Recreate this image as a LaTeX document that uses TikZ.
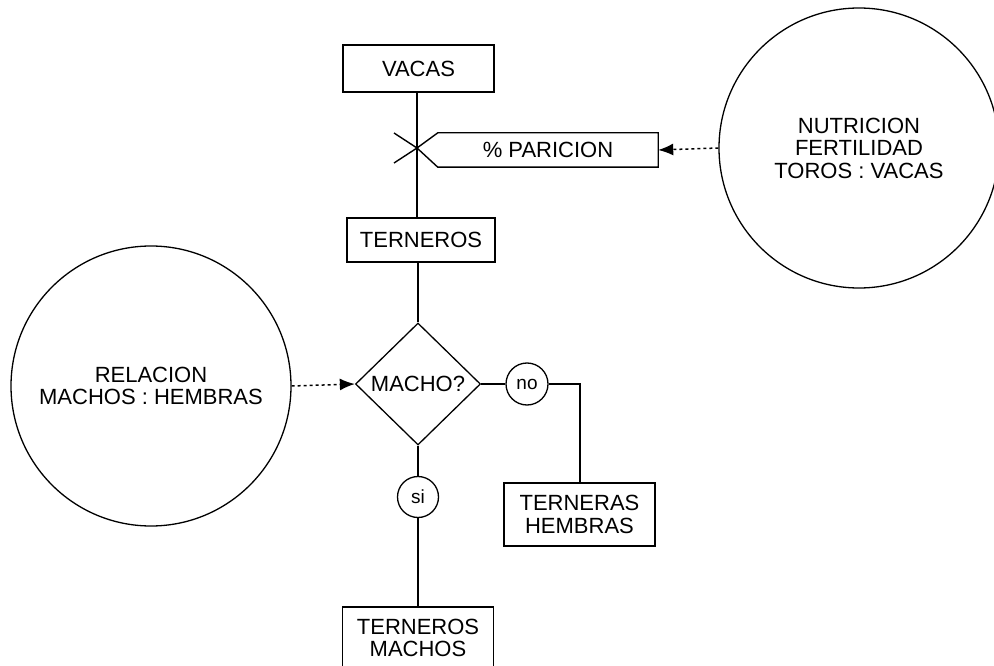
\documentclass[tikz,border=0pt]{standalone}
\usepackage{fontspec}
\setmainfont{Liberation Sans}
\usetikzlibrary{shapes.geometric,arrows.meta}
\begin{document}
\begin{tikzpicture}[x=1pt,y=-1pt,
  every node/.style={font=\fontsize{22}{22.5}\selectfont, inner sep=0pt, align=center},
  box/.style={draw, rectangle, line width=1.4pt},
  bigcirc/.style={draw, circle, line width=1.3pt, minimum size=280pt},
  smallcirc/.style={draw, circle, line width=1.3pt, minimum size=41pt, font=\fontsize{19}{20}\selectfont},
  flow/.style={line width=1.4pt},
  info/.style={line width=1.5pt, dash pattern=on 3pt off 3pt, -{Latex[length=15pt,width=12pt]}}]
\useasboundingbox (0,0) rectangle (994,666);
\clip (0,0) rectangle (994,666);

% stocks
\node[box, minimum width=151pt, minimum height=47pt] (vacas) at (418.5,68.5) {VACAS};
\node[box, minimum width=148pt, minimum height=44pt] (terneros) at (421,240) {TERNEROS};
\node[box, minimum width=151pt, minimum height=63pt] (hembras) at (579.5,514.5) {TERNERAS\\HEMBRAS};
\node[box, minimum width=151pt, minimum height=62pt] (machos) at (418,638) {TERNEROS\\MACHOS};

% valve and rate
\coordinate (valve) at (417,148);
\node[minimum width=220pt, minimum height=34pt] (paric) at (548,150) {\% PARICION};
\draw[flow] (valve) -- (paric.north west) -- (paric.north east) -- (paric.south east)
  -- (paric.south west) -- cycle;
\draw[flow] (valve) -- ++(-23,-15);
\draw[flow] (valve) -- ++(-23,15);

% auxiliaries
\node[bigcirc] (nutri) at (859,148) {NUTRICION\\FERTILIDAD\\TOROS : VACAS};
\node[bigcirc] (relac) at (151,386) {RELACION\\MACHOS : HEMBRAS};

% decision
\node[draw, diamond, line width=1.3pt, minimum width=125pt, minimum height=122pt] (dia) at (418,384) {MACHO?};
\node[smallcirc, minimum size=42pt] (no) at (527,384) {no};
\node[smallcirc] (si) at (418,497) {si};
\coordinate (nocorner) at (580,384);

% flows
\draw[flow] (vacas.south -| valve) -- (valve) -- (terneros.north -| valve);
\draw[flow] (terneros.south -| dia.north) -- (dia.north);
\draw[flow] (dia.east) -- (no.west);
\draw[flow] (no.east) -- (nocorner) -- (hembras.north -| nocorner);
\draw[flow] (dia.south) -- (si.north);
\draw[flow] (si.south) -- (machos.north);

% information links
\draw[info] (nutri.west) -- (paric.east);
\draw[info] (relac.east) -- (dia.west);
\end{tikzpicture}
\end{document}
